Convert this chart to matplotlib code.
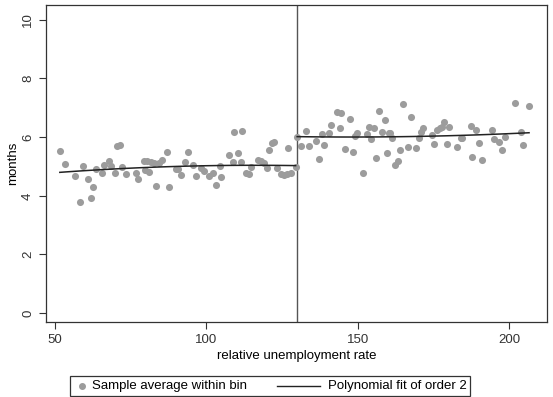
import numpy as np
import matplotlib.pyplot as plt
from matplotlib.lines import Line2D
from matplotlib.patches import Rectangle

plt.rcParams['font.family'] = ['Liberation Sans', 'DejaVu Sans']

cutoff = 130

# bin averages below the cutoff
x_left = [51.6, 53.3, 56.6, 58.4, 59.1, 61.0, 61.8, 62.6, 63.7, 65.4, 66.1, 67.9, 68.6,
          69.7, 70.5, 71.4, 72.3, 73.3, 76.6, 77.5, 79.3, 79.9, 80.4, 81.2, 81.6, 82.7,
          83.4, 84.3, 85.4, 86.9, 87.8, 90.0, 90.6, 91.7, 92.8, 93.8, 95.5, 96.6, 98.3,
          99.3, 101.0, 102.1, 103.2, 104.6, 105.0, 107.6, 108.7, 109.2, 110.3, 111.4,
          111.9, 113.1, 114.1, 114.7, 116.9, 118.0, 119.1, 120.2, 120.7, 121.8, 122.4,
          123.5, 124.6, 125.7, 126.7, 126.9, 127.9, 129.5]
y_left = [5.53, 5.08, 4.68, 3.79, 5.00, 4.57, 3.92, 4.30, 4.91, 4.79, 5.05, 5.20, 5.02,
          4.78, 5.70, 5.74, 4.99, 4.74, 4.78, 4.57, 5.19, 4.88, 5.20, 4.81, 5.16, 5.13,
          4.35, 5.13, 5.22, 5.50, 4.31, 4.90, 4.93, 4.71, 5.16, 5.48, 5.05, 4.68, 4.96,
          4.85, 4.68, 4.79, 4.36, 5.02, 4.65, 5.39, 5.16, 6.17, 5.47, 5.16,
          6.21, 4.79, 4.74, 4.99, 5.22, 5.19, 5.13, 4.94, 5.56, 5.79, 5.85,
          4.94, 4.74, 4.71, 4.74, 5.62, 4.79, 4.99]

# bin averages above the cutoff
x_right = [130.0, 131.2, 132.8, 133.9, 136.3, 137.2, 138.1, 138.8, 140.5, 141.3, 143.2,
           144.0, 144.6, 145.7, 147.4, 148.5, 149.2, 149.8, 151.7, 153.1, 153.6, 154.5,
           155.3, 156.1, 156.9, 158.0, 158.9, 159.6, 160.2, 160.7, 161.3, 162.4, 163.2,
           164.0, 164.9, 166.5, 167.5, 169.3, 170.1, 170.8, 171.7, 174.4, 175.2, 176.1,
           177.2, 177.7, 178.5, 179.4, 180.3, 182.9, 184.0, 184.6, 187.3, 187.9, 189.0,
           190.0, 190.9, 194.2, 195.0, 196.7, 197.8, 198.6, 202.1, 204.0, 204.6, 206.6]
y_right = [6.02, 5.70, 6.22, 5.70, 5.88, 5.26, 6.10, 5.73, 6.15, 6.42, 6.87,
           6.30, 6.84, 5.59, 6.62, 5.48, 6.04, 6.15, 4.77, 6.11, 6.36, 5.93,
           6.30, 5.28, 6.90, 6.19, 6.59, 5.47, 6.13, 6.15, 5.98, 5.05, 5.20,
           5.56, 7.13, 5.65, 6.68, 5.62, 5.96, 6.19, 6.30, 6.08, 5.77, 6.25,
           6.30, 6.36, 6.53, 5.77, 6.36, 5.68, 5.96, 5.96, 6.38, 5.31, 6.25,
           5.81, 5.22, 6.25, 5.93, 5.85, 5.56, 6.00, 7.18, 6.19, 5.73, 7.07]

# fitted curves
fit_left_x = [51.6, 70, 90, 110, 129.5]
fit_left_y = [4.80, 4.92, 5.00, 5.04, 5.03]
fit_right_x = [130.0, 150, 170, 190, 206.6]
fit_right_y = [6.02, 6.00, 6.03, 6.08, 6.15]

fig = plt.figure(figsize=(5.53, 3.97), dpi=100)
ax = fig.add_axes([0.083, 0.189, 0.906, 0.798])

ax.scatter(x_left, y_left, s=26, color='#9c9c9c', linewidths=0, zorder=2)
ax.scatter(x_right, y_right, s=26, color='#9c9c9c', linewidths=0, zorder=2)

for fx, fy in [(fit_left_x, fit_left_y), (fit_right_x, fit_right_y)]:
    c = np.polyfit(fx, fy, 2)
    xx = np.linspace(fx[0], fx[-1], 100)
    ax.plot(xx, np.polyval(c, xx), color='#222222', lw=1.1, zorder=3)

ax.axvline(cutoff, color='#555555', lw=1.0, zorder=1)

ax.set_xlim(47, 212.5)
ax.set_ylim(-0.3, 10.5)
ax.set_xticks([50, 100, 150, 200])
ax.set_yticks([0, 2, 4, 6, 8, 10])
ax.set_yticklabels(['0', '2', '4', '6', '8', '10'], rotation=90, va='center')
ax.tick_params(direction='out', length=5, labelsize=9.5, colors='#333333')
ax.set_xlabel('relative unemployment rate', fontsize=9.5, labelpad=3)
ax.set_ylabel('months', fontsize=9.5, labelpad=2)
for sp in ax.spines.values():
    sp.set_color('#333333')
    sp.set_linewidth(0.9)

# legend box below the plot
fig.add_artist(Rectangle((70 / 553, 1 - 396 / 397), 400 / 553, 20 / 397,
                         transform=fig.transFigure, fill=False,
                         edgecolor='#333333', lw=0.9))
ly = 1 - 386 / 397
fig.add_artist(Line2D([82 / 553], [ly], marker='o', color='#9c9c9c', markersize=4,
                      ls='', transform=fig.transFigure))
fig.text(92 / 553, ly, 'Sample average within bin', fontsize=9.5, va='center', ha='left')
fig.add_artist(Line2D([277 / 553, 320 / 553], [ly, ly], color='#222222', lw=1.0,
                      transform=fig.transFigure))
fig.text(328 / 553, ly, 'Polynomial fit of order 2', fontsize=9.5, va='center', ha='left')

plt.savefig('out.png', dpi=100)
